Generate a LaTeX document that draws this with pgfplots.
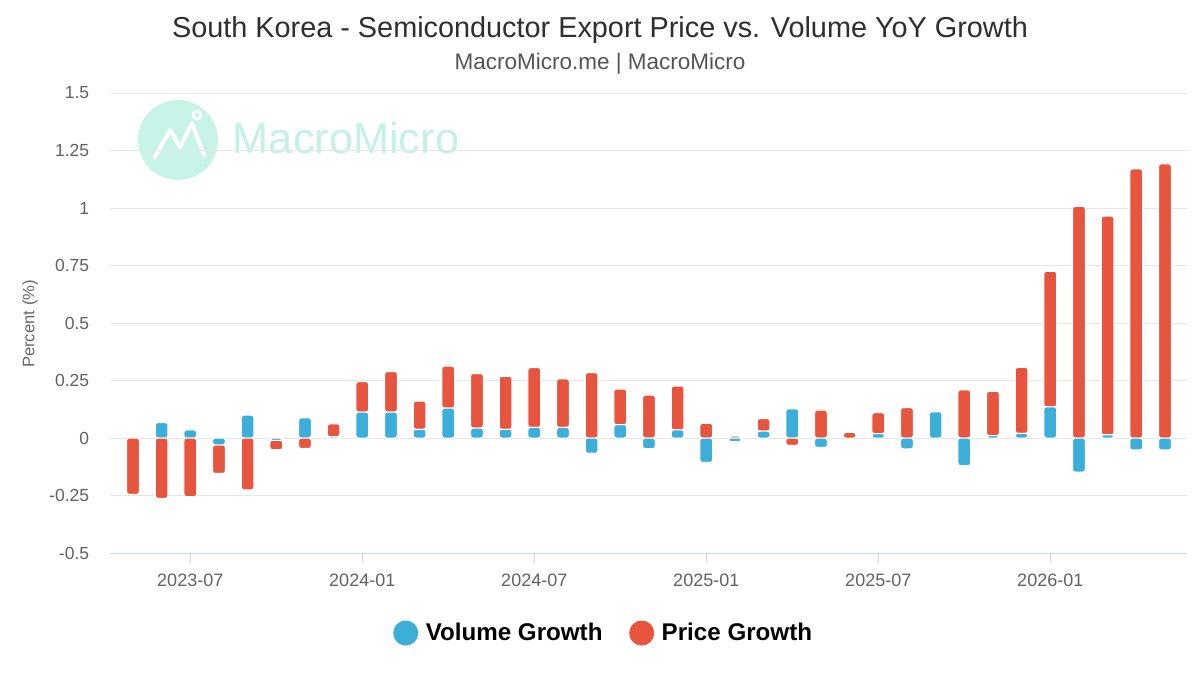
\documentclass[border=0pt]{standalone}
\usepackage{fontspec}
\setmainfont{Liberation Sans}
\usepackage{pgfplots}
\usepackage{pgfplotstable}
\pgfplotsset{compat=1.18}
\definecolor{volc}{HTML}{3BAFDA}
\definecolor{pricec}{HTML}{E8553E}
\definecolor{gridc}{HTML}{E6E6E6}
\definecolor{axisc}{HTML}{CCD6EB}
\definecolor{mint}{HTML}{C8F3E8}
\definecolor{mintt}{HTML}{C2F1E5}

\pgfplotstableread{
idx vol price
0 0.000 -0.245
1 0.067 -0.262
2 0.035 -0.255
3 -0.030 -0.124
4 0.099 -0.225
5 -0.010 -0.041
6 0.088 -0.045
7 0.006 0.055
8 0.113 0.132
9 0.113 0.176
10 0.038 0.122
11 0.130 0.182
12 0.043 0.237
13 0.038 0.230
14 0.046 0.260
15 0.046 0.211
16 -0.066 0.284
17 0.058 0.155
18 -0.046 0.186
19 0.035 0.191
20 -0.106 0.064
21 -0.016 0.008
22 0.030 0.054
23 0.127 -0.032
24 -0.041 0.121
25 0.000 0.024
26 0.019 0.091
27 -0.047 0.132
28 0.114 0.000
29 -0.120 0.209
30 0.010 0.193
31 0.020 0.287
32 0.135 0.590
33 -0.148 1.007
34 0.014 0.951
35 -0.052 1.170
36 -0.052 1.192
}\data

\pgfplotsset{
 common/.style={
  scale only axis, width=646.2pt, height=276pt,
  at={(66pt,73.2pt)}, anchor=south west,
  xmin=-0.8, xmax=36.77, ymin=-0.5, ymax=1.5,
  ybar stacked, bar width=7.6pt,
 },
 barsty/.style={fill=#1, draw=white, line width=0.6pt, rounded corners=1.5pt,
   legend image code/.code={\fill[#1] (7.2pt,0pt) circle (7.2pt);}},
}

\begin{document}
\begin{tikzpicture}
\path[use as bounding box] (0,0) rectangle (720pt,405pt);
\begin{scope}[x=0.6pt,y=0.6pt]
 % watermark
 \fill[mint] (178,535) circle (40);
 \draw[white, line width=2.4pt, line join=round, line cap=round]
   (155,518) -- (170,545) -- (180,528) -- (192,552) -- (204,520);
 \draw[white, line width=1.6pt] (197,560) circle (4);
 \node[anchor=west, text=mintt, font=\fontsize{26}{30}\selectfont] at (227,537) {MacroMicro};
 % titles
 \node[text=black!82, font=\fontsize{17.3}{21}\selectfont] at (600,645) {South Korea - Semiconductor Export Price vs. Volume YoY Growth};
 \node[text=black!67, font=\fontsize{13.5}{16}\selectfont] at (600,611) {MacroMicro.me | MacroMicro};
 \node[rotate=90, text=black!60, font=\fontsize{10}{12}\selectfont] at (30,351) {Percent (\%)};
\end{scope}
\begin{axis}[common,
  axis x line*=bottom, axis y line*=left,
  y axis line style={draw=none},
  x axis line style={draw=axisc, line width=0.6pt},
  ymajorgrids, grid style={draw=gridc, line width=0.6pt},
  ytick={-0.5,-0.25,0,0.25,0.5,0.75,1,1.25,1.5},
  yticklabels={-0.5,-0.25,0,0.25,0.5,0.75,1,1.25,1.5},
  xtick={2,8,14,20,26,32},
  xticklabels={2023-07,2024-01,2024-07,2025-01,2025-07,2026-01},
  ytick style={draw=none},
  xtick style={draw=axisc, line width=0.6pt},
  tick align=outside, major tick length=6pt,
  ticklabel style={text=black!62},
  xticklabel style={yshift=-3pt, font=\fontsize{10.8}{13}\selectfont},
  yticklabel style={xshift=-3pt, font=\fontsize{10.5}{13}\selectfont},
  legend style={at={(0.459,-0.174)}, anchor=center, draw=none, fill=none,
    legend columns=2, font=\fontsize{14.5}{17}\selectfont\bfseries,
    /tikz/every odd column/.append style={column sep=2.5pt},
    /tikz/every even column/.append style={column sep=14pt},
    legend cell align=left},
]
\addplot[barsty=volc] table[x=idx, y expr={max(\thisrow{vol},0)}] {\data};
\addplot[barsty=pricec] table[x=idx, y expr={max(\thisrow{price},0)}] {\data};
\legend{Volume Growth, Price Growth}
\end{axis}
\begin{axis}[common, hide axis]
\addplot[barsty=volc] table[x=idx, y expr={min(\thisrow{vol},0)}] {\data};
\addplot[barsty=pricec] table[x=idx, y expr={min(\thisrow{price},0)}] {\data};
\end{axis}
\end{tikzpicture}
\end{document}
